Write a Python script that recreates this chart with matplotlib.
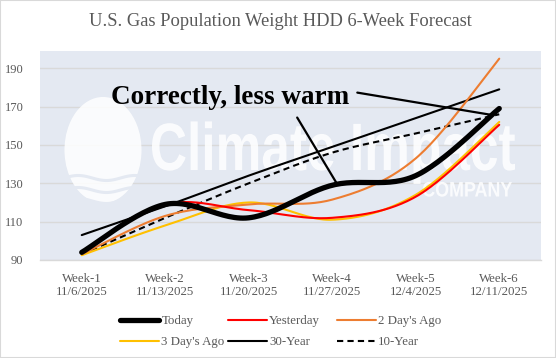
import matplotlib
matplotlib.use("Agg")
import matplotlib.pyplot as plt
import numpy as np
from matplotlib.patches import PathPatch, Ellipse, Rectangle
from matplotlib.textpath import TextPath
from matplotlib.font_manager import FontProperties
from matplotlib.transforms import Affine2D

plt.rcParams['font.family'] = ['Liberation Serif', 'DejaVu Serif']

# data
weeks = ["Week-1\n11/6/2025", "Week-2\n11/13/2025", "Week-3\n11/20/2025",
         "Week-4\n11/27/2025", "Week-5\n12/4/2025", "Week-6\n12/11/2025"]
today = [94, 119, 112, 129, 134, 169]
yesterday = [94, 119, 116, 112, 123, 160.5]
two_days_ago = [93, 113, 119, 121.5, 143, 195]
three_days_ago = [92.5, 108, 120, 111, 124, 162]
thirty_year = [103, 118, 134, 149, 164, 179]
ten_year = [93, 112, 130, 146, 156, 166]
yticks = [90, 110, 130, 150, 170, 190]

grey_txt = "#595959"
bg = "#E4E9F2"


def smooth(ys, n=30):
    # excel-style smoothed line: catmull-rom as cubic bezier
    xs = np.arange(len(ys), dtype=float)
    pts = np.column_stack([xs, np.asarray(ys, float)])
    p = np.vstack([pts[0], pts, pts[-1]])
    t = np.linspace(0, 1, n)[:, None]
    out = []
    for i in range(1, len(p) - 2):
        b0 = p[i]
        b1 = p[i] + (p[i + 1] - p[i - 1]) / 6
        b2 = p[i + 1] - (p[i + 2] - p[i]) / 6
        b3 = p[i + 1]
        seg = ((1 - t) ** 3) * b0 + 3 * ((1 - t) ** 2) * t * b1 + 3 * (1 - t) * t ** 2 * b2 + t ** 3 * b3
        out.append(seg if i == 1 else seg[1:])
    c = np.vstack(out)
    return c[:, 0], c[:, 1]


fig = plt.figure(figsize=(5.56, 3.58), dpi=100)
ax = fig.add_axes([40 / 556, 1 - 260 / 358, 501 / 556, 209 / 358])
ax.set_facecolor(bg)
fig.patches.append(Rectangle((0, 0), 1, 1, transform=fig.transFigure, fill=False,
                             edgecolor="#D9D9D9", linewidth=1.5))

# watermark (logo) drawn in pixel space, y measured from top
px = Affine2D().scale(1 / 100) + fig.dpi_scale_trans
wm = dict(facecolor="white", edgecolor="none", alpha=0.85, zorder=1)
ax.add_patch(Ellipse((103, 358 - 150), 77, 106, transform=px, **wm))
for wy in [178, 190, 201]:
    xx = np.linspace(64, 142, 60)
    ax.plot(xx, 358 - wy + 2.5 * np.sin((xx - 64) / 9), color=bg, lw=2.2,
            transform=px, zorder=1.1)
fp = FontProperties(family="Liberation Sans", weight="bold")
for txt, cap, x0, x1, ybase in [("Climate Impact", 48, 152, 515, 170),
                                ("COMPANY", 15, 423, 512, 196.5)]:
    tp = TextPath((0, 0), txt, size=cap / 0.716, prop=fp)
    ext = tp.get_extents()
    sx = (x1 - x0) / (ext.x1 - ext.x0)
    tr = Affine2D().translate(-ext.x0, 0).scale(sx, 1).translate(x0, 358 - ybase) + px
    ax.add_patch(PathPatch(tp, transform=tr, **wm))

series = [
    ("Today", today, dict(color="black", lw=3.8)),
    ("Yesterday", yesterday, dict(color="#FF0000", lw=1.5)),
    ("2 Day's Ago", two_days_ago, dict(color="#ED7D31", lw=1.5)),
    ("3 Day's Ago", three_days_ago, dict(color="#FFC000", lw=1.5)),
    ("30-Year", thirty_year, dict(color="black", lw=1.5)),
    ("10-Year", ten_year, dict(color="black", lw=1.5, ls=(0, (3, 2)))),
]
handles = {}
for name, vals, st in series[::-1]:
    xs, ys = smooth(vals)
    h, = ax.plot(xs, ys, label=name, zorder=3, solid_capstyle="round", **st)
    handles[name] = h

ax.set_xlim(-0.5, 5.5)
ax.set_ylim(90, 199)
ax.set_yticks(yticks)
ax.set_xticks(range(len(weeks)))
ax.set_xticklabels(weeks, fontsize=9.3, color=grey_txt)
ax.tick_params(axis="y", labelsize=9, labelcolor=grey_txt, length=0, pad=12)
ax.tick_params(axis="x", length=0, pad=9)
ax.grid(axis="y", color="#D9D9D9", lw=1)
ax.set_axisbelow(True)
for s in ["top", "right", "left"]:
    ax.spines[s].set_visible(False)
ax.spines["bottom"].set_color("#D9D9D9")
ax.spines["bottom"].set_linewidth(1)

# annotation
note_xy = (1.78, 174.7)
ax.text(*note_xy, "Correctly, less warm", fontsize=19.5, fontweight="bold",
        ha="center", va="center", zorder=5)
for start, end in [((3.30, 177.3), (4.89, 165.8)), ((2.58, 164.3), (3.06, 129.5))]:
    ax.annotate("", xy=end, xytext=start,
                arrowprops=dict(arrowstyle="-", color="black", lw=1.6,
                                shrinkA=0, shrinkB=0), zorder=5)

fig.text(280 / 556, 1 - 22 / 358, "U.S. Gas Population Weight HDD 6-Week Forecast",
         ha="center", va="center", fontsize=13.3, color=grey_txt)

# legend: excel uses equal-width cells, so one legend per column
columns = [["Today", "3 Day's Ago"], ["Yesterday", "30-Year"], ["2 Day's Ago", "10-Year"]]
col_x = [120, 228, 337]
for names, cx in zip(columns, col_x):
    fig.legend([handles[k] for k in names], names, ncol=1, frameon=False,
               loc="upper left", bbox_to_anchor=(cx / 556, 1 - 315 / 358),
               borderaxespad=0, borderpad=0, handlelength=3.0, handletextpad=0.2,
               labelspacing=0.7,
               prop=dict(family="Liberation Serif", size=9.3), labelcolor=grey_txt)

fig.savefig("out.png", dpi=100)
